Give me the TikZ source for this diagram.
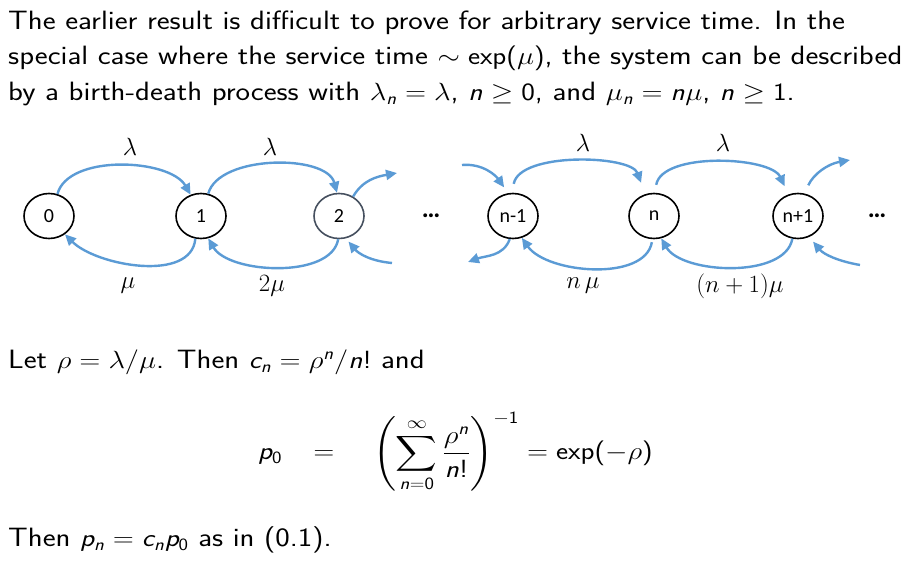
\documentclass[tikz,border=0pt]{standalone}
\usepackage{amsmath}
\usepackage[no-math]{fontspec}
\usepackage{tikz}
\usetikzlibrary{arrows.meta}
\usetikzlibrary{shapes.geometric}

\newfontfamily\calibri{Carlito}
\definecolor{flowblue}{RGB}{91,155,213}
\definecolor{ringgray}{RGB}{70,80,95}

% slide maths: latin letters and digits in sans, greek as usual
\DeclareMathVersion{sans}
\SetSymbolFont{operators}{sans}{OT1}{cmss}{m}{n}
\DeclareSymbolFont{latin}{OML}{cmm}{m}{it}
\SetSymbolFont{latin}{sans}{OT1}{cmss}{m}{sl}
\DeclareMathSymbol{c}{\mathalpha}{latin}{`c}
\DeclareMathSymbol{n}{\mathalpha}{latin}{`n}
\DeclareMathSymbol{p}{\mathalpha}{latin}{`p}

\begin{document}
\begin{tikzpicture}[x=1pt,y=1pt,
    state/.style={ellipse,draw=black,line width=1.6pt,minimum width=50pt,minimum height=45pt,inner sep=0pt,font=\calibri\fontsize{20}{22}\selectfont},
    flow/.style={draw=flowblue,line width=2.4pt,-{Triangle[length=11pt,width=10pt]}},
    rate/.style={font=\fontsize{23}{26}\selectfont,inner sep=0pt},
    dots/.style={font=\calibri\bfseries\fontsize{26}{28}\selectfont},
    slide/.style={anchor=base west,inner sep=0pt,xscale=1.16,transform shape,font=\sffamily\fontsize{26.5}{35}\selectfont\mathversion{sans}}]
    \useasboundingbox (0,0) rectangle (906,-569);
    % slide text
    \node[slide] (t1) at (8,-30) {The earlier result is difficult to prove for arbitrary service time. In the};
    \node[slide] (t2) at (8,-65) {special case where the service time $\sim\exp(\mu)$, the system can be described};
    \node[slide] (t3) at (8,-101) {by a birth-death process with $\lambda_n=\lambda$, $n\geq 0$, and $\mu_n=n\mu$, $n\geq 1$.};
    \node[slide] (t4) at (8,-369) {Let $\rho=\lambda/\mu$. Then $c_n=\rho^n/n!$ and};
    \node[slide] (eq) at (258,-460) {$\displaystyle p_0\hspace{0.75em}=\quad\left(\sum_{n=0}^{\infty}\frac{\rho^n}{n!}\right)^{-1}=\exp(-\rho)$};
    \node[slide] (t5) at (8,-547) {Then $p_n=c_np_0$ as in (0.1).};
    % states
    \node[state] (n0) at (49,-216) {0};
    \node[state] (n1) at (201,-216) {1};
    \node[state,draw=ringgray] (n2) at (339,-216) {2};
    \node[dots] (d1) at (431,-216) {…};
    \node[state] (nm) at (513,-216) {n-1};
    \node[state] (nn) at (654,-216) {n};
    \node[state] (np) at (798,-216) {n+1};
    \node[dots] (d2) at (877,-216) {…};
    \coordinate (out2) at (397,-173);
    \coordinate (in2) at (392,-263);
    \coordinate (inm) at (462,-165);
    \coordinate (outm) at (468,-262);
    \coordinate (outp) at (850,-160);
    \coordinate (inp) at (860,-265);
    % births
    \draw[flow] (n0.69) to[out=75,in=120,looseness=0.8] (n1.116);
    \draw[flow] (n1.72) to[out=75,in=105,looseness=0.8] (n2.95);
    \draw[flow] (n2.54) to[out=60,in=190] (out2);
    \draw[flow,shorten >=7pt] (inm) to[out=5,in=125] (nm.102);
    \draw[flow,shorten <=9pt,shorten >=12pt] (nm.92) to[out=80,in=110,looseness=0.8] (nn.112);
    \draw[flow,shorten <=8pt,shorten >=9pt] (nn.88) to[out=80,in=115,looseness=0.8] (np.114);
    \draw[flow,shorten <=9pt] (np.74) to[out=65,in=190] (outp);
    % deaths
    \draw[flow] (n1.256) to[out=-95,in=-45,looseness=0.87] (n0.-49);
    \draw[flow] (n2.-92) to[out=-100,in=-60,looseness=0.8] (n1.-72);
    \draw[flow,shorten >=4pt] (in2) to[out=175,in=-50] (n2.-73);
    \draw[flow] (nm.-98) to[out=-110,in=20] (outm);
    \draw[flow,shorten <=3pt] (nn.-94) to[out=-100,in=-55,looseness=0.85] (nm.-68);
    \draw[flow] (np.-104) to[out=-100,in=-60,looseness=0.8] (nn.-72);
    \draw[flow,shorten >=6pt] (inp) to[out=170,in=-50] (np.-62);
    % rates
    \node[rate] (la1) at (130,-147) {$\lambda$};
    \node[rate] (la2) at (270,-147) {$\lambda$};
    \node[rate] (la3) at (583,-143) {$\lambda$};
    \node[rate] (la4) at (723,-143) {$\lambda$};
    \node[rate] (mu1) at (128,-286) {$\mu$};
    \node[rate] (mu2) at (272,-286) {$2\mu$};
    \node[rate] (mu3) at (583,-286) {$n\,\mu$};
    \node[rate] (mu4) at (740,-286) {$(n+1)\mu$};
\end{tikzpicture}
\end{document}
